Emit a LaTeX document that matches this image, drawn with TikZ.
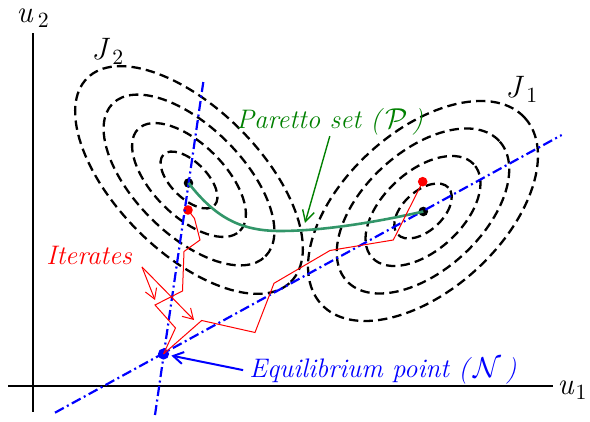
\documentclass[tikz,border=0pt]{standalone}
\usepackage{fontspec}
\usepackage{amsmath}
\usepackage{tikz}
\usetikzlibrary{arrows.meta, positioning, calc}
\definecolor{myblue}{RGB}{0,0,255}
\definecolor{myred}{RGB}{255,0,0}
\definecolor{mygreen}{RGB}{0,128,0}
\definecolor{mycurve}{RGB}{50,150,105}
\tikzset{
  axis/.style={line width=1pt, color=black},
  contour/.style={draw=black, line width=1.15pt, dash pattern=on 4.7pt off 2.6pt},
  dashdot/.style={draw=myblue, line width=1.1pt, dash pattern=on 5pt off 1.8pt on 1pt off 1.8pt},
  iterpath/.style={draw=myred, line width=0.5pt},
  pareto/.style={draw=mycurve, line width=1.3pt},
  dot/.style={circle, fill=black, inner sep=0pt, minimum size=4.8pt},
  reddot/.style={circle, fill=myred, inner sep=0pt, minimum size=4.8pt},
  bluedot/.style={circle, fill=myblue, inner sep=0pt, minimum size=5.6pt},
  lbl/.style={inner sep=0pt, font=\fontsize{13.4}{16}\selectfont\itshape},
  axlbl/.style={inner sep=0pt, font=\fontsize{15.5}{18}\selectfont\itshape},
  greenarrow/.style={-{Straight Barb[length=5.5pt, width=6pt]}, line width=0.7pt, color=mygreen},
  bluearrow/.style={-{Straight Barb[length=5pt, width=6pt]}, line width=1pt, color=myblue},
  redarrow/.style={-{Straight Barb[length=5pt, width=6pt]}, line width=0.5pt, color=myred}
}

\begin{document}
\begin{tikzpicture}[x=0.5pt, y=0.5pt]
  \useasboundingbox (0,0) rectangle (590,422);

  % Axes
  \coordinate (xstart) at (8,36);
  \coordinate (xend) at (553,36);
  \coordinate (ystart) at (32.5,10);
  \coordinate (yend) at (32.5,389);
  \draw[axis] (xstart) -- (xend);
  \draw[axis] (ystart) -- (yend);
  \node[axlbl, anchor=base west] (u1) at (557,27) {u\kern1pt\textup{\textsubscript{1}}};
  \node[axlbl, anchor=base west] (u2) at (16,399) {u\,\textup{\textsubscript{2}}};

  % Level sets of J2
  \begin{scope}[shift={(189,242)}, rotate=-45]
    \foreach \k in {1,...,4}
      \draw[contour] (0,0) ellipse [x radius=36*\k, y radius=18*\k];
  \end{scope}
  \node[axlbl, anchor=base west] (j2lbl) at (91,362) {J\,\textup{\textsubscript{2}}};

  % Level sets of J1
  \begin{scope}[shift={(423,211)}, rotate=42.5]
    \foreach \k in {1,...,4}
      \draw[contour] (0,0) ellipse [x radius=34.5*\k, y radius=19.8*\k];
  \end{scope}
  \node[axlbl, anchor=base west] (j1lbl) at (505,324) {J\,\textup{\textsubscript{1}}};

  % Minima, equilibrium and last iterates
  \node[dot] (j2min) at (188.5,239) {};
  \node[dot] (j1min) at (423.3,210.5) {};
  \node[reddot] (j2it) at (188,212) {};
  \node[reddot] (j1it) at (422.7,240.3) {};
  \node[bluedot] (neq) at (163.5,68) {};

  % Blue dash-dot lines through N
  \coordinate (l1a) at (155,7);
  \coordinate (l1b) at (203.3,340);
  \coordinate (l2a) at (55,9.3);
  \coordinate (l2b) at (561.7,287);
  \draw[dashdot] (l1a) -- (l1b);
  \draw[dashdot] (l2a) -- (l2b);

  % Pareto set
  \draw[pareto] (j2min.center) .. controls (215,205) and (240,191) .. (280,191)
    .. controls (330,191) and (390,203) .. (j1min.center);

  % Iterates
  \draw[iterpath] (neq.center) -- (175.5,94) -- (155,117) -- (182.5,131) -- (184,170.5)
    -- (200,182) -- (194.5,203.5) -- (j2it.center);
  \draw[iterpath] (neq.center) -- (201.7,101.5) -- (255,89.5) -- (274,138.7) -- (330,171.5)
    -- (393.3,182) -- (j1it.center);

  % Labels
  \node[lbl, anchor=base west, color=mygreen] (parlbl) at (236,293) {Paretto set (\,$\mathcal{P}$\,)};
  \coordinate (ptip) at (305,199);
  \draw[greenarrow] (parlbl.south) -- (ptip);

  \node[lbl, anchor=base west, color=myblue] (eqlbl) at (249,44) {Equilibrium point (\,$\mathcal{N}$\,)};
  \draw[bluearrow, shorten <=3pt, shorten >=1pt] (eqlbl.west) -- (neq);

  \node[lbl, anchor=base west, color=myred] (itlbl) at (46,157) {Iterates};
  \coordinate (itfork) at (142,155);
  \coordinate (ittipa) at (155,122);
  \coordinate (ittipb) at (194,102);
  \draw[redarrow] (itfork) -- (ittipa);
  \draw[redarrow] (itfork) -- (ittipb);
\end{tikzpicture}
\end{document}
